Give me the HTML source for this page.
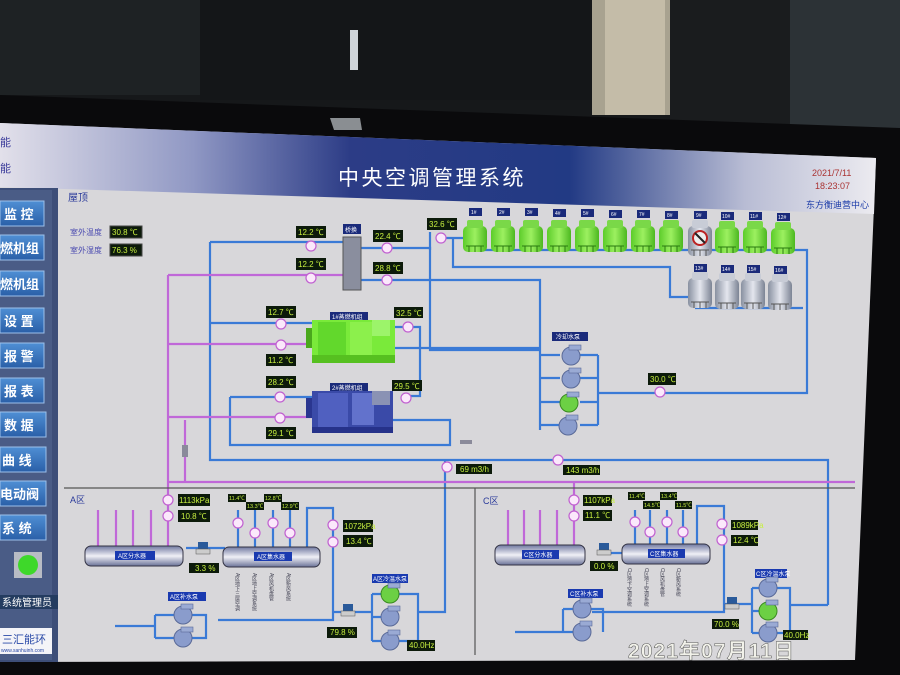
<!DOCTYPE html>
<html><head><meta charset="utf-8"><style>
html,body{margin:0;padding:0;background:#111;}
svg{display:block;font-family:"Liberation Sans","Noto Sans CJK SC",sans-serif;}
</style></head><body>
<svg width="900" height="675" viewBox="0 0 900 675" xmlns="http://www.w3.org/2000/svg">
<defs>
<linearGradient id="hdr" x1="0" x2="1" y1="0" y2="0">
<stop offset="0" stop-color="#e2e0ea"/><stop offset="0.22" stop-color="#9098c4"/><stop offset="0.4" stop-color="#2c3c86"/><stop offset="0.65" stop-color="#223a84"/><stop offset="0.85" stop-color="#b8bcd4"/><stop offset="1" stop-color="#ecebf0"/>
</linearGradient>
<linearGradient id="btn" x1="0" x2="0" y1="0" y2="1"><stop offset="0" stop-color="#4f8fd4"/><stop offset="1" stop-color="#2a5fa8"/></linearGradient>
<linearGradient id="ct" x1="0" x2="1"><stop offset="0" stop-color="#5ccc2a"/><stop offset="0.5" stop-color="#9cf060"/><stop offset="1" stop-color="#4cb820"/></linearGradient>
<linearGradient id="ctg" x1="0" x2="1"><stop offset="0" stop-color="#8890a0"/><stop offset="0.5" stop-color="#e4e6ee"/><stop offset="1" stop-color="#7c8494"/></linearGradient>
<linearGradient id="tank" x1="0" x2="0" y1="0" y2="1"><stop offset="0" stop-color="#7078a0"/><stop offset="0.5" stop-color="#f0f0f6"/><stop offset="1" stop-color="#6a7298"/></linearGradient>
<g id="ctw"><rect x="0" y="6" width="24" height="26" rx="5" fill="url(#ct)"/><rect x="4" y="0" width="16" height="8" rx="2" fill="#7ad848"/><path d="M3 26h18M6 26v6M12 26v6M18 26v6" stroke="#2a7a10" stroke-width="1"/></g>
<g id="ctg1"><rect x="0" y="6" width="24" height="30" rx="5" fill="url(#ctg)"/><rect x="4" y="0" width="16" height="8" rx="2" fill="#c8ccd6"/><path d="M3 30h18M6 30v6M12 30v6M18 30v6" stroke="#555" stroke-width="1"/></g>
<g id="pump"><circle r="9" fill="#8a9ccc" stroke="#5a6a98"/><rect x="-2" y="-11" width="12" height="5" fill="#9aaad4" stroke="#5a6a98" stroke-width="0.6"/></g>
<g id="pumpg"><circle r="9" fill="#6cd044" stroke="#3a8a20"/><rect x="-2" y="-11" width="12" height="5" fill="#9aaad4" stroke="#5a6a98" stroke-width="0.6"/></g>
</defs>

<rect width="900" height="675" fill="#16181a"/>
<rect x="0" y="0" width="200" height="95" fill="#1e2224"/>
<rect x="200" y="0" width="390" height="100" fill="#141618"/>
<rect x="350" y="30" width="8" height="40" fill="#cfd4d8"/>
<rect x="592" y="0" width="78" height="115" fill="#a8a290"/>
<rect x="605" y="0" width="60" height="115" fill="#c4bca8"/>
<rect x="670" y="0" width="120" height="125" fill="#1a1c1e"/>
<rect x="790" y="0" width="110" height="130" fill="#2c3236"/>
<polygon points="0,95 900,128 900,675 0,675" fill="#0a0a0c"/>
<polygon points="330,118 360,118 362,130 334,130" fill="#8a8e92"/>

<polygon points="0,123 876,158 855,660 0,662" fill="#d8d7da"/>
<polygon points="0,123 876,158 874,214 0,187" fill="url(#hdr)"/>
<text x="338" y="185" font-size="21" fill="#fff" letter-spacing="2.5">中央空调管理系统</text>
<text x="812" y="176" font-size="9" fill="#a33">2021/7/11</text>
<text x="815" y="189" font-size="9" fill="#a33">18:23:07</text>
<text x="806" y="208" font-size="9" fill="#1a3aa8">东方衡迪营中心</text>
<text x="0" y="146" font-size="11" fill="#3a3a9a">能</text>
<text x="0" y="172" font-size="11" fill="#3a3a9a">能</text>

<rect x="0" y="188" width="58" height="474" fill="#3d4e78"/>
<rect x="0" y="190" width="52" height="470" fill="#4a5c86"/>
<g font-size="13" fill="#fff" font-weight="bold">
<rect x="0" y="201" width="44" height="25" fill="url(#btn)" stroke="#9cc0ea"/><text x="4" y="219">监 控</text>
<rect x="0" y="235" width="44" height="25" fill="url(#btn)" stroke="#9cc0ea"/><text x="0" y="253">燃机组</text>
<rect x="0" y="271" width="44" height="25" fill="url(#btn)" stroke="#9cc0ea"/><text x="0" y="289">燃机组</text>
<rect x="0" y="308" width="44" height="25" fill="url(#btn)" stroke="#9cc0ea"/><text x="4" y="326">设 置</text>
<rect x="0" y="343" width="44" height="25" fill="url(#btn)" stroke="#9cc0ea"/><text x="4" y="361">报 警</text>
<rect x="0" y="378" width="44" height="25" fill="url(#btn)" stroke="#9cc0ea"/><text x="4" y="396">报 表</text>
<rect x="0" y="412" width="46" height="25" fill="url(#btn)" stroke="#9cc0ea"/><text x="4" y="430">数 据</text>
<rect x="0" y="447" width="46" height="25" fill="url(#btn)" stroke="#9cc0ea"/><text x="2" y="465">曲 线</text>
<rect x="0" y="481" width="46" height="25" fill="url(#btn)" stroke="#9cc0ea"/><text x="0" y="499">电动阀</text>
<rect x="0" y="515" width="46" height="25" fill="url(#btn)" stroke="#9cc0ea"/><text x="2" y="533">系 统</text>
</g>
<rect x="14" y="552" width="28" height="26" fill="#b8bcc4"/>
<circle cx="28" cy="565" r="10" fill="#3ed82a"/>
<rect x="0" y="595" width="58" height="14" fill="#243c60"/>
<text x="2" y="606" font-size="10" fill="#fff">系统管理员</text>
<rect x="0" y="628" width="52" height="26" fill="#f4f4f8"/>
<text x="2" y="643" font-size="11" fill="#2a4aa8">三汇能环</text>
<text x="1" y="652" font-size="5" fill="#2a4aa8">www.sanhuinh.com</text>

<text x="68" y="201" font-size="10" fill="#2a3a9a">屋顶</text>
<text x="70" y="235" font-size="8" fill="#4a4ab0">室外温度</text>
<text x="70" y="253" font-size="8" fill="#4a4ab0">室外湿度</text>

<g fill="none" stroke-width="2.2">
<g stroke="#3a7ad6">
<path d="M210,242V460H828V605"/>
<path d="M210,242H343"/>
<path d="M361,248H430V250"/>
<path d="M361,280H540V430"/>
<path d="M430,232V350H540"/>
<path d="M441,238H465M453,238V267H670V297H690"/>
<path d="M470,250H807V393H598"/>
<path d="M695,308H803"/>
<path d="M210,323H312M395,327H420V396H406M395,348H540"/>
<path d="M230,397H312M230,397V445H450V420H393"/>
<path d="M598,355V425M540,355H560M540,378H560M540,402H560M540,425H560M580,355H598M580,378H598M580,402H598M580,425H598"/>
<path d="M238,510V547M255,510V547M273,510V547M290,510V547M307,547V508H333V620H218"/>
<path d="M115,626H155M155,615V638M155,615H175M155,638H175M192,615H206V638H192"/>
<path d="M333,612H372M372,594V641M372,594H382M372,617H382M372,641H382M398,594H418V641H398M418,612H445V460"/>
<path d="M635,510V544M650,510V544M667,510V544M683,510V544M697,544V506H724V612H592"/>
<path d="M515,632H563M563,609V632M563,609H574M563,632H574M590,609H603V632"/>
<path d="M724,604H752M752,588V633M752,588H760M752,611H760M752,633H760M776,588H790V633H776M790,605H828"/>
<path d="M186,548H225M604,553H622"/>
</g>
<g stroke="#c068d8">
<path d="M168,275H343M168,275V548"/>
<path d="M168,344H312M168,417H312"/>
<path d="M168,482H855M574,482V545"/>
<path d="M98,510V547M116,510V547M133,510V547M151,510V547"/>
<path d="M508,510V545M524,510V545M540,510V545M557,510V545"/>
<path d="M185,420V482"/>
</g>
</g>
<rect x="182" y="445" width="6" height="12" fill="#8a8a9a"/>

<rect x="343" y="224" width="18" height="10" fill="#1a2a7a"/><text x="345" y="232" font-size="6" fill="#fff">桥换</text>
<rect x="343" y="237" width="18" height="53" fill="#8a8e9e" stroke="#555"/>

<rect x="330" y="312" width="38" height="8" fill="#1a2a7a"/><text x="332" y="319" font-size="6" fill="#fff">1#蒸燃机组</text>
<rect x="312" y="320" width="83" height="43" fill="#7aea3a"/>
<rect x="318" y="322" width="28" height="34" fill="#62d82c"/><rect x="350" y="322" width="22" height="34" fill="#8cf04c"/><rect x="372" y="320" width="18" height="16" fill="#9cf46a"/>
<rect x="312" y="355" width="83" height="8" fill="#56c020"/><rect x="306" y="328" width="6" height="20" fill="#4aa81c"/>
<rect x="330" y="383" width="38" height="8" fill="#1a2a7a"/><text x="332" y="390" font-size="6" fill="#fff">2#蒸燃机组</text>
<rect x="312" y="391" width="81" height="42" fill="#3a4aa8"/>
<rect x="318" y="393" width="30" height="34" fill="#5060c0"/><rect x="352" y="393" width="22" height="32" fill="#6272cc"/><rect x="372" y="391" width="18" height="14" fill="#8a92b4"/>
<rect x="312" y="427" width="81" height="6" fill="#26328a"/><rect x="306" y="398" width="6" height="20" fill="#2a3690"/>

<g font-size="5" fill="#fff">
<g transform="translate(463,220)"><use href="#ctw"/></g>
<g transform="translate(491,220)"><use href="#ctw"/></g>
<g transform="translate(519,220)"><use href="#ctw"/></g>
<g transform="translate(547,220)"><use href="#ctw"/></g>
<g transform="translate(575,220)"><use href="#ctw"/></g>
<g transform="translate(603,220)"><use href="#ctw"/></g>
<g transform="translate(631,220)"><use href="#ctw"/></g>
<g transform="translate(659,220)"><use href="#ctw"/></g>
<g transform="translate(688,220)"><use href="#ctg1"/></g>
<circle cx="700" cy="238" r="7" fill="#eee" stroke="#b22" stroke-width="2"/><path d="M695,233L705,243" stroke="#222" stroke-width="2"/>
<g transform="translate(715,221)"><use href="#ctw"/></g>
<g transform="translate(743,221)"><use href="#ctw"/></g>
<g transform="translate(771,222)"><use href="#ctw"/></g>
<g transform="translate(688,272)"><use href="#ctg1"/></g>
<g transform="translate(715,273)"><use href="#ctg1"/></g>
<g transform="translate(741,273)"><use href="#ctg1"/></g>
<g transform="translate(768,274)"><use href="#ctg1"/></g>
<rect x="469" y="208" width="13" height="8" fill="#1a2a7a"/><text x="471" y="214">1#</text>
<rect x="497" y="208" width="13" height="8" fill="#1a2a7a"/><text x="499" y="214">2#</text>
<rect x="525" y="208" width="13" height="8" fill="#1a2a7a"/><text x="527" y="214">3#</text>
<rect x="553" y="209" width="13" height="8" fill="#1a2a7a"/><text x="555" y="215">4#</text>
<rect x="581" y="209" width="13" height="8" fill="#1a2a7a"/><text x="583" y="215">5#</text>
<rect x="609" y="210" width="13" height="8" fill="#1a2a7a"/><text x="611" y="216">6#</text>
<rect x="637" y="210" width="13" height="8" fill="#1a2a7a"/><text x="639" y="216">7#</text>
<rect x="665" y="211" width="13" height="8" fill="#1a2a7a"/><text x="667" y="217">8#</text>
<rect x="694" y="211" width="13" height="8" fill="#1a2a7a"/><text x="696" y="217">9#</text>
<rect x="721" y="212" width="13" height="8" fill="#1a2a7a"/><text x="722" y="218">10#</text>
<rect x="749" y="212" width="13" height="8" fill="#1a2a7a"/><text x="750" y="218">11#</text>
<rect x="777" y="213" width="13" height="8" fill="#1a2a7a"/><text x="778" y="219">12#</text>
<rect x="694" y="264" width="13" height="8" fill="#1a2a7a"/><text x="695" y="270">13#</text>
<rect x="721" y="265" width="13" height="8" fill="#1a2a7a"/><text x="722" y="271">14#</text>
<rect x="747" y="265" width="13" height="8" fill="#1a2a7a"/><text x="748" y="271">15#</text>
<rect x="774" y="266" width="13" height="8" fill="#1a2a7a"/><text x="775" y="272">16#</text>
</g>

<rect x="552" y="332" width="36" height="9" fill="#1a2a7a"/><text x="556" y="339" font-size="6" fill="#fff">冷却水泵</text>
<use href="#pump" x="571" y="356"/><use href="#pump" x="571" y="379"/><use href="#pumpg" x="569" y="403"/><use href="#pump" x="568" y="426"/>

<path d="M64,488H855M475,488V655" stroke="#555" stroke-width="1.2"/>
<text x="70" y="503" font-size="9" fill="#2a3a9a">A区</text>
<text x="483" y="504" font-size="9" fill="#2a3a9a">C区</text>

<g font-size="6" fill="#fff">
<rect x="85" y="546" width="98" height="20" rx="6" fill="url(#tank)" stroke="#334"/><rect x="115" y="551" width="40" height="9" fill="#1a3ab0"/><text x="118" y="558">A区分水器</text>
<rect x="223" y="547" width="97" height="20" rx="6" fill="url(#tank)" stroke="#334"/><rect x="254" y="552" width="38" height="9" fill="#1a3ab0"/><text x="257" y="559">A区集水器</text>
<rect x="495" y="545" width="90" height="20" rx="6" fill="url(#tank)" stroke="#334"/><rect x="522" y="550" width="37" height="9" fill="#1a3ab0"/><text x="524" y="557">C区分水器</text>
<rect x="622" y="544" width="88" height="20" rx="6" fill="url(#tank)" stroke="#334"/><rect x="648" y="549" width="37" height="9" fill="#1a3ab0"/><text x="650" y="556">C区集水器</text>
<rect x="168" y="592" width="38" height="9" fill="#1a3ab0"/><text x="170" y="599">A区补水泵</text>
<rect x="372" y="574" width="36" height="9" fill="#1a3ab0"/><text x="373" y="581">A区冷温水泵</text>
<rect x="568" y="589" width="35" height="9" fill="#1a3ab0"/><text x="570" y="596">C区补水泵</text>
<rect x="755" y="569" width="32" height="9" fill="#1a3ab0"/><text x="756" y="576">C区冷温水泵</text>
</g>
<g font-size="5" fill="#445" writing-mode="tb">
<text x="237" y="573">A区地下三层空调</text><text x="254" y="573">A区地上空调系统</text><text x="271" y="573">A区风机盘管</text><text x="288" y="573">A区新风系统</text>
<text x="629" y="568">C区地下空调系统</text><text x="646" y="568">C区地上空调系统</text><text x="662" y="568">C区风机盘管</text><text x="678" y="568">C区新风系统</text>
</g>
<use href="#pump" x="183" y="615"/><use href="#pump" x="183" y="638"/>
<use href="#pumpg" x="390" y="594"/><use href="#pump" x="390" y="617"/><use href="#pump" x="390" y="641"/>
<use href="#pump" x="582" y="609"/><use href="#pump" x="582" y="632"/>
<use href="#pump" x="768" y="588"/><use href="#pumpg" x="768" y="611"/><use href="#pump" x="768" y="633"/>
<rect x="198" y="542" width="10" height="7" fill="#2a5a9a"/><rect x="196" y="549" width="14" height="5" fill="#ccc" stroke="#555" stroke-width="0.5"/>
<rect x="599" y="543" width="10" height="7" fill="#2a5a9a"/><rect x="597" y="550" width="14" height="5" fill="#ccc" stroke="#555" stroke-width="0.5"/>
<rect x="343" y="604" width="10" height="7" fill="#2a5a9a"/><rect x="341" y="611" width="14" height="5" fill="#ccc" stroke="#555" stroke-width="0.5"/>
<rect x="727" y="597" width="10" height="7" fill="#2a5a9a"/><rect x="725" y="604" width="14" height="5" fill="#ccc" stroke="#555" stroke-width="0.5"/>
<rect x="460" y="440" width="12" height="4" fill="#8a8a9a"/>

<g fill="#fbe8fb" stroke="#c060d0" stroke-width="1.2">
<circle cx="311" cy="246" r="5"/><circle cx="311" cy="278" r="5"/><circle cx="387" cy="248" r="5"/><circle cx="387" cy="280" r="5"/>
<circle cx="441" cy="238" r="5"/><circle cx="281" cy="324" r="5"/><circle cx="281" cy="345" r="5"/><circle cx="408" cy="327" r="5"/>
<circle cx="280" cy="397" r="5"/><circle cx="280" cy="418" r="5"/><circle cx="406" cy="398" r="5"/><circle cx="660" cy="392" r="5"/>
<circle cx="447" cy="467" r="5"/><circle cx="558" cy="460" r="5"/>
<circle cx="168" cy="500" r="5"/><circle cx="168" cy="516" r="5"/><circle cx="238" cy="523" r="5"/><circle cx="255" cy="533" r="5"/><circle cx="273" cy="523" r="5"/><circle cx="290" cy="533" r="5"/>
<circle cx="333" cy="525" r="5"/><circle cx="333" cy="542" r="5"/>
<circle cx="574" cy="500" r="5"/><circle cx="574" cy="516" r="5"/><circle cx="635" cy="522" r="5"/><circle cx="650" cy="532" r="5"/><circle cx="667" cy="522" r="5"/><circle cx="683" cy="532" r="5"/>
<circle cx="722" cy="524" r="5"/><circle cx="722" cy="540" r="5"/>
</g>

<g font-size="8" fill="#c8f040">
<rect x="110" y="226" width="32" height="12" fill="#0c1a0a" stroke="#444"/><text x="112" y="235">30.8 ℃</text>
<rect x="110" y="244" width="32" height="12" fill="#0c1a0a" stroke="#444"/><text x="112" y="253">76.3 %</text>
<rect x="296" y="226" width="30" height="12" fill="#0c1a0a"/><text x="298" y="235">12.2 ℃</text>
<rect x="296" y="258" width="30" height="12" fill="#0c1a0a"/><text x="298" y="267">12.2 ℃</text>
<rect x="373" y="230" width="30" height="12" fill="#0c1a0a"/><text x="375" y="239">22.4 ℃</text>
<rect x="373" y="262" width="30" height="12" fill="#0c1a0a"/><text x="375" y="271">28.8 ℃</text>
<rect x="427" y="218" width="30" height="12" fill="#0c1a0a"/><text x="429" y="227">32.6 ℃</text>
<rect x="266" y="306" width="30" height="12" fill="#0c1a0a"/><text x="268" y="315">12.7 ℃</text>
<rect x="266" y="354" width="30" height="12" fill="#0c1a0a"/><text x="268" y="363">11.2 ℃</text>
<rect x="394" y="307" width="29" height="11" fill="#0c1a0a"/><text x="396" y="316">32.5 ℃</text>
<rect x="266" y="376" width="30" height="12" fill="#0c1a0a"/><text x="268" y="385">28.2 ℃</text>
<rect x="266" y="427" width="30" height="12" fill="#0c1a0a"/><text x="268" y="436">29.1 ℃</text>
<rect x="392" y="380" width="30" height="11" fill="#0c1a0a"/><text x="394" y="389">29.5 ℃</text>
<rect x="648" y="373" width="28" height="12" fill="#0c1a0a"/><text x="650" y="382">30.0 ℃</text>
<rect x="456" y="464" width="36" height="10" fill="#0c1a0a"/><text x="460" y="472">69 m3/h</text>
<rect x="563" y="465" width="37" height="10" fill="#0c1a0a"/><text x="566" y="473">143 m3/h</text>
<rect x="178" y="494" width="32" height="12" fill="#0c1a0a"/><text x="179" y="503">1113kPa</text>
<rect x="178" y="510" width="32" height="12" fill="#0c1a0a"/><text x="181" y="519">10.8 ℃</text>
<rect x="343" y="520" width="30" height="12" fill="#0c1a0a"/><text x="344" y="529">1072kPa</text>
<rect x="343" y="535" width="30" height="12" fill="#0c1a0a"/><text x="346" y="544">13.4 ℃</text>
<rect x="189" y="563" width="30" height="10" fill="#0c1a0a"/><text x="195" y="571">3.3 %</text>
<rect x="327" y="627" width="30" height="11" fill="#0c1a0a"/><text x="330" y="635">79.8 %</text>
<rect x="407" y="640" width="28" height="11" fill="#0c1a0a"/><text x="409" y="648">40.0Hz</text>
<rect x="583" y="495" width="29" height="11" fill="#0c1a0a"/><text x="584" y="503">1107kPa</text>
<rect x="583" y="510" width="29" height="11" fill="#0c1a0a"/><text x="585" y="518">11.1 ℃</text>
<rect x="731" y="520" width="27" height="10" fill="#0c1a0a"/><text x="732" y="528">1089kPa</text>
<rect x="731" y="535" width="27" height="11" fill="#0c1a0a"/><text x="733" y="543">12.4 ℃</text>
<rect x="590" y="561" width="28" height="10" fill="#0c1a0a"/><text x="594" y="569">0.0 %</text>
<rect x="712" y="619" width="27" height="10" fill="#0c1a0a"/><text x="714" y="627">70.0 %</text>
<rect x="783" y="630" width="25" height="10" fill="#0c1a0a"/><text x="784" y="638">40.0Hz</text>
</g>
<g font-size="5.5" fill="#c8f040">
<rect x="228" y="494" width="18" height="8" fill="#0c1a0a"/><text x="229" y="500">11.4℃</text>
<rect x="246" y="502" width="18" height="8" fill="#0c1a0a"/><text x="247" y="508">13.3℃</text>
<rect x="264" y="494" width="18" height="8" fill="#0c1a0a"/><text x="265" y="500">12.8℃</text>
<rect x="281" y="502" width="18" height="8" fill="#0c1a0a"/><text x="282" y="508">12.9℃</text>
<rect x="628" y="492" width="17" height="8" fill="#0c1a0a"/><text x="629" y="498">11.4℃</text>
<rect x="643" y="501" width="17" height="8" fill="#0c1a0a"/><text x="644" y="507">14.5℃</text>
<rect x="660" y="492" width="17" height="8" fill="#0c1a0a"/><text x="661" y="498">13.4℃</text>
<rect x="675" y="501" width="17" height="8" fill="#0c1a0a"/><text x="676" y="507">11.5℃</text>
</g>

<text x="628" y="658" font-size="21" font-weight="bold" fill="#f2f2ea" stroke="#555" stroke-width="0.5" textLength="166">2021年07月11日</text>
</svg>
</body></html>
